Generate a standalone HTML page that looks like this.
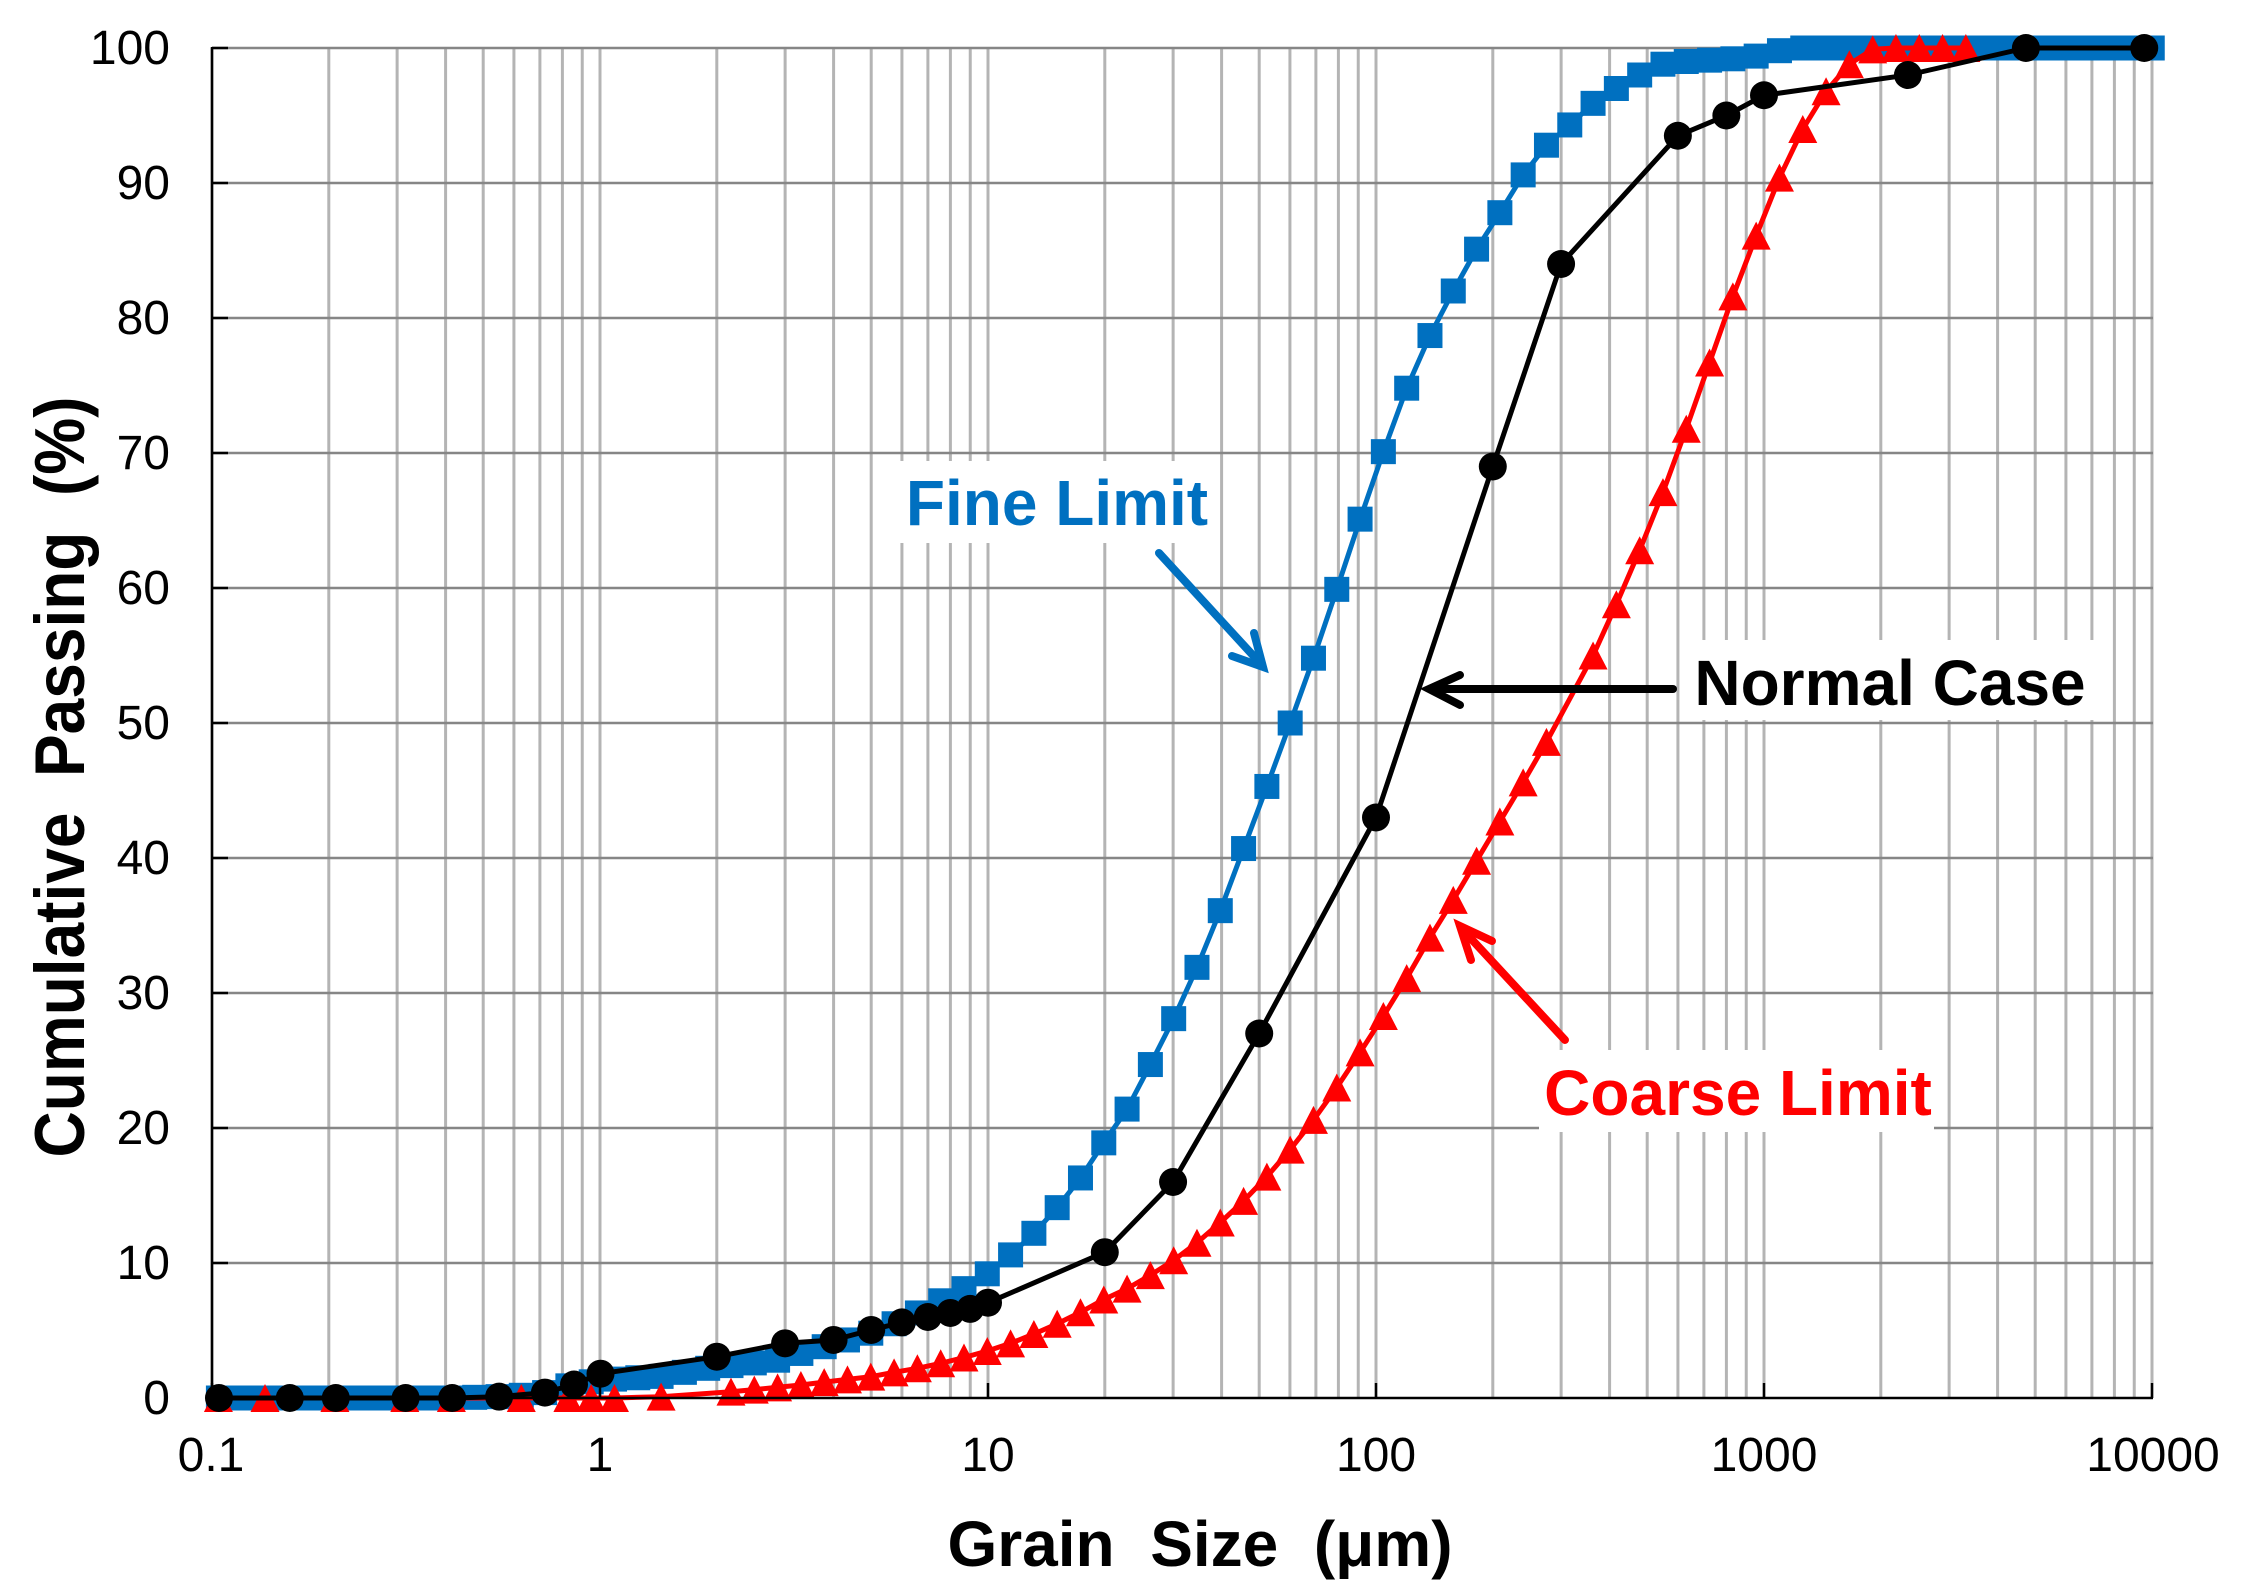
<!DOCTYPE html>
<html><head><meta charset="utf-8">
<style>
html,body{margin:0;padding:0;background:#fff;overflow:hidden;}
svg{display:block;}
text{font-family:"Liberation Sans",Arial,sans-serif;}
</style></head>
<body>
<svg id="s" xmlns="http://www.w3.org/2000/svg" width="2244" height="1596" viewBox="0 0 2244 1596">
<rect x="0" y="0" width="2244" height="1596" fill="#fff"/>
<g id="grid"></g>
<g id="series"></g>
<!-- axes -->
<line x1="212" y1="47" x2="212" y2="1399" stroke="#000" stroke-width="2.5"/>
<line x1="211" y1="1398" x2="2153" y2="1398" stroke="#000" stroke-width="2.5"/>
<g id="ticks" stroke="#000" stroke-width="2.5"></g>
<!-- tick labels -->
<g font-size="48" fill="#000" text-anchor="end">
<text x="170" y="64">100</text>
<text x="170" y="199">90</text>
<text x="170" y="334">80</text>
<text x="170" y="469">70</text>
<text x="170" y="604">60</text>
<text x="170" y="739">50</text>
<text x="170" y="874">40</text>
<text x="170" y="1009">30</text>
<text x="170" y="1144">20</text>
<text x="170" y="1279">10</text>
<text x="170" y="1414">0</text>
</g>
<g font-size="48" fill="#000" text-anchor="middle">
<text x="211" y="1471">0.1</text>
<text x="600" y="1471">1</text>
<text x="988" y="1471">10</text>
<text x="1376" y="1471">100</text>
<text x="1764" y="1471">1000</text>
<text x="2153" y="1471">10000</text>
</g>
<!-- axis titles -->
<text x="1200" y="1566" font-size="64" font-weight="bold" text-anchor="middle" xml:space="preserve">Grain  Size  (μm)</text>
<text transform="translate(84,777) rotate(-90) scale(1,1.1)" x="0" y="0" font-size="64" font-weight="bold" text-anchor="middle" xml:space="preserve">Cumulative  Passing  (%)</text>
<!-- annotation boxes -->
<rect x="888" y="461" width="328" height="82" fill="#fff"/>
<rect x="1685" y="640" width="415" height="80" fill="#fff"/>
<rect x="1539" y="1050" width="395" height="82" fill="#fff"/>
<text x="1057" y="525" font-size="64" font-weight="bold" fill="#0070C0" text-anchor="middle">Fine Limit</text>
<text x="1890" y="705" font-size="64" font-weight="bold" fill="#000" text-anchor="middle">Normal Case</text>
<text x="1738" y="1115" font-size="64" font-weight="bold" fill="#FF0000" text-anchor="middle">Coarse Limit</text>
<!-- arrows -->
<g fill="none" stroke-width="8" stroke-linecap="round" stroke-linejoin="miter">
<line x1="1159" y1="553" x2="1260" y2="663" stroke="#0070C0"/>
<polyline points="1254,633 1263,667 1232,656" stroke="#0070C0"/>
<line x1="1673" y1="689" x2="1432" y2="689" stroke="#000"/>
<polyline points="1460,675 1429,689 1460,705" stroke="#000"/>
<line x1="1565" y1="1040" x2="1463" y2="930" stroke="#FF0000"/>
<polyline points="1492,941 1460,926 1471,960" stroke="#FF0000"/>
</g>
</svg>
<script>
(function(){
var NS="http://www.w3.org/2000/svg";
function el(tag,attrs,parent){var e=document.createElementNS(NS,tag);for(var k in attrs)e.setAttribute(k,attrs[k]);parent.appendChild(e);return e;}
function X(l){return 212+(l+1)*388;}
function Y(p){return 1398-p*13.5;}
var grid=document.getElementById('grid');
var series=document.getElementById('series');
var ticks=document.getElementById('ticks');
// vertical gridlines
for(var d=-1;d<=3;d++){for(var m=1;m<=9;m++){var x=X(d+Math.log10(m));el('line',{x1:x,y1:48,x2:x,y2:1398,stroke:'#B4B4B4','stroke-width':3},grid);}}
el('line',{x1:X(4),y1:48,x2:X(4),y2:1398,stroke:'#B4B4B4','stroke-width':3},grid);
// horizontal gridlines
for(var p=10;p<=100;p+=10){el('line',{x1:212,y1:Y(p),x2:2153,y2:Y(p),stroke:'#868686','stroke-width':2.5},grid);}
// ticks
for(var p=0;p<=100;p+=10){el('line',{x1:212,y1:Y(p),x2:228,y2:Y(p)},ticks);}
for(var d=-1;d<=4;d++){el('line',{x1:X(d),y1:1383,x2:X(d),y2:1398},ticks);}
var g0=0.3376,st=0.06005;
// Blue fine limit
var bp=[0,0,0,0,0,0,0,0,0,0,0,0.05,0.1,0.2,
0.4,0.9,1.2,1.4,1.5,1.6,1.9,2.2,
2.4,2.6,2.8,3.3,3.8,4.3,4.8,5.5,6.3,7.2,8.1,9.2,10.6,12.2,14.1,16.3,18.9,
21.4,24.7,28.1,31.9,36.1,40.7,45.3,50.0,54.8,59.9,65.1,70.1,74.8,78.7,82.0,85.1,87.8,90.6,92.8,94.3,95.9,97.0,98.0,98.8,
99.0,99.1,99.2,99.4,99.8,
100,100,100,100,100,100,100,100,100,100,100,100,100,100,100,100];
var blue=[];for(var i=0;i<bp.length;i++){var k=i-22;blue.push([X(g0+k*st),Y(bp[i])]);}
// Red coarse limit
var rp=[[-22,0],[-20,0],[-17,0],[-14,0],[-12,0],[-9,0],[-7,0],[-6,0],[-5,0],[-3,0.1],
[0,0.47],[1,0.62],[2,0.79],[3,0.96],[4,1.18],[5,1.38],[6,1.58],[7,1.9],[8,2.2],[9,2.57],[10,3.0],[11,3.48],[12,4.05],[13,4.74],[14,5.5],[15,6.35],[16,7.3],
[17,8.1],[18,9.1],[19,10.2],[20,11.5],[21,13.0],[22,14.6],[23,16.4],[24,18.4],[25,20.6],[26,23.0],[27,25.6],[28,28.3],[29,31.1],[30,34.1],[31,36.9],[32,39.8],[33,42.7],[34,45.6],[35,48.6],
[37,55.0],[38,58.8],[39,62.8],[40,67.1],[41,71.8],[42,76.7],[43,81.6],[44,86.1],[45,90.4],[46,94.0],[47,96.8],[48,98.8],[49,99.9],[50,100],[51,100],[52,100],[53,100]];
var red=rp.map(function(a){return [X(g0+a[0]*st),Y(a[1])];});
// Black normal case
var bk=[[-0.982,0],[-0.7995,0],[-0.681,0],[-0.501,0],[-0.381,0],[-0.260,0.1],[-0.142,0.4],[-0.067,1.0],[0.0013,1.8],
[0.301,3.06],[0.477,4.05],[0.602,4.3],[0.699,5.04],[0.778,5.6],[0.845,6.0],[0.903,6.3],[0.954,6.6],[1.0,7.06],[1.301,10.8],[1.477,16],[1.699,27],[2.0,43],[2.301,69],[2.477,84],[2.778,93.5],[2.903,95],[3.0,96.5],[3.371,98],[3.675,100],[3.98,100]];
var black=bk.map(function(a){return [X(a[0]),Y(a[1])];});
function pts(a){return a.map(function(q){return q[0].toFixed(1)+','+q[1].toFixed(1);}).join(' ');}
// blue
el('polyline',{points:pts(blue),fill:'none',stroke:'#0070C0','stroke-width':5,'stroke-linejoin':'round'},series);
blue.forEach(function(q){el('rect',{x:q[0]-12.5,y:q[1]-12.5,width:25,height:25,fill:'#0070C0'},series);});
// red
el('polyline',{points:pts(red),fill:'none',stroke:'#FF0000','stroke-width':5,'stroke-linejoin':'round'},series);
red.forEach(function(q){el('polygon',{points:(q[0])+','+(q[1]-14)+' '+(q[0]+14.5)+','+(q[1]+14)+' '+(q[0]-14.5)+','+(q[1]+14),fill:'#FF0000'},series);});
// black
el('polyline',{points:pts(black),fill:'none',stroke:'#000','stroke-width':5,'stroke-linejoin':'round'},series);
black.forEach(function(q){el('circle',{cx:q[0],cy:q[1],r:14,fill:'#000'},series);});
})();
</script>
</body></html>
